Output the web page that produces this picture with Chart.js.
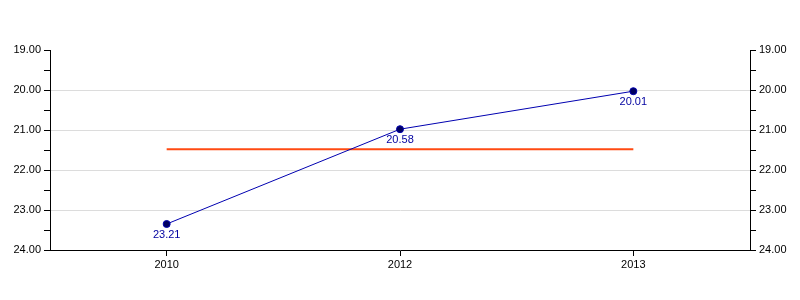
<!DOCTYPE html>
<html>
<head>
<meta charset="utf-8">
<script src="https://cdn.jsdelivr.net/npm/chart.js@4/dist/chart.umd.min.js"></script>
<style>
    html, body { margin: 0; padding: 0; background: #fff; }
</style>
</head>
<body>
<canvas id="chart" width="800" height="300"></canvas>
<script>
// data
const years       = ['2010', '2012', '2013'];
const values      = [23.35, 20.98, 20.03];
const valueLabels = ['23.21', '20.58', '20.01'];
const average     = [21.48, 21.48, 21.48];

const yMin = 19, yMax = 24;
const tickFont = { family: 'Liberation Sans, Arial, sans-serif', size: 11 };

// labels under each point
const pointLabels = {
    id: 'pointLabels',
    afterDatasetsDraw(chart) {
        const ctx = chart.ctx;
        const meta = chart.getDatasetMeta(0);
        ctx.save();
        ctx.fillStyle = '#0000a0';
        ctx.font = '11px Liberation Sans, Arial, sans-serif';
        ctx.textAlign = 'center';
        ctx.textBaseline = 'top';
        meta.data.forEach((pt, i) => {
            ctx.fillText(valueLabels[i], pt.x, pt.y + 5);
        });
        ctx.restore();
    }
};

// y axis: major ticks every 1, minor ticks every 0.5
const yAxis = (position) => ({
    position,
    reverse: true,
    min: yMin,
    max: yMax,
    afterFit: s => { s.width = 50; },
    ticks: {
        stepSize: 0.5,
        autoSkip: false,
        color: '#000',
        font: tickFont,
        padding: 3,
        callback: v => Number.isInteger(v) ? v.toFixed(2) : ''
    },
    grid: {
        drawOnChartArea: position === 'left',
        color: c => (c.tick && Number.isInteger(c.tick.value) && c.tick.value > yMin && c.tick.value < yMax) ? '#dcdcdc' : 'rgba(0,0,0,0)',
        tickColor: '#000',
        tickLength: 6,
        lineWidth: 1
    },
    border: { display: true, color: '#000', width: 1 }
});

new Chart(document.getElementById('chart'), {
    type: 'line',
    data: {
        labels: years,
        datasets: [
            {
                data: values,
                borderColor: '#0000b0',
                borderWidth: 1,
                backgroundColor: '#000060',
                pointBackgroundColor: '#000060',
                pointBorderColor: '#0000b0',
                pointRadius: 3.5,
                pointBorderWidth: 1,
                tension: 0,
                yAxisID: 'y'
            },
            {
                data: average,
                borderColor: '#ff4a12',
                borderWidth: 2,
                pointRadius: 0,
                tension: 0,
                yAxisID: 'y'
            }
        ]
    },
    options: {
        responsive: false,
        animation: false,
        layout: { padding: { top: 50, bottom: 0, left: 0, right: 0 } },
        plugins: { legend: { display: false }, tooltip: { enabled: false } },
        scales: {
            x: {
                offset: true,
                afterFit: s => { s.height = 50; },
                ticks: { color: '#000', font: tickFont, padding: 2, autoSkip: false, maxRotation: 0 },
                grid: { drawOnChartArea: false, tickColor: '#000', tickLength: 6, offset: false },
                border: { color: '#000', width: 1 }
            },
            y: yAxis('left'),
            y2: yAxis('right')
        }
    },
    plugins: [pointLabels]
});
</script>
</body>
</html>
